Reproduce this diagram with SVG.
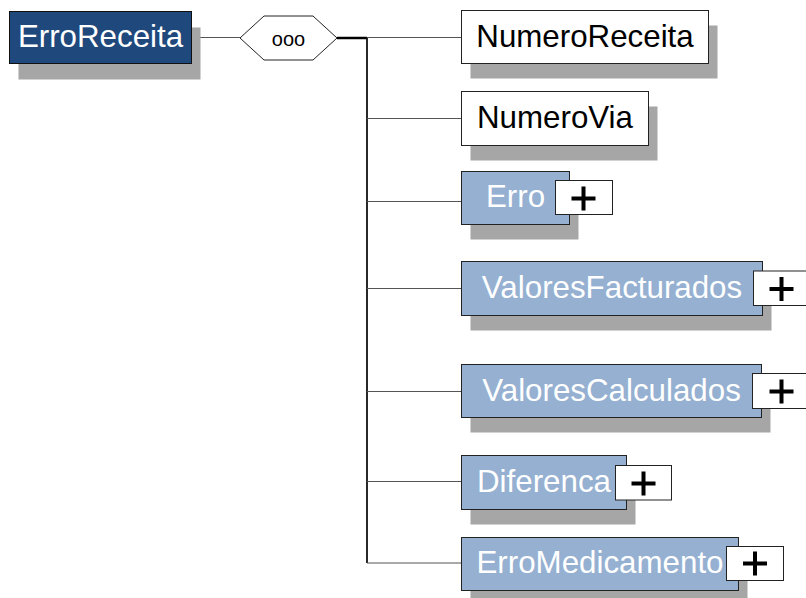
<svg xmlns="http://www.w3.org/2000/svg" width="806" height="598" viewBox="0 0 806 598">
<style>
.sh{fill:#a6a6a6}
.dk{fill:#1f487c;stroke:#111;stroke-width:1}
.lt{fill:#95b0d1;stroke:#222;stroke-width:1}
.wh{fill:#fff;stroke:#222;stroke-width:1}
.t{font-family:"Liberation Sans",Arial,sans-serif;font-size:31.3px;text-anchor:middle}
.tw{fill:#fff}
.tb{fill:#000}
.pl{stroke:#000;stroke-width:4;fill:none}
.ln{stroke:#555;stroke-width:1;fill:none}
</style>
<g id="connectors">
<line class="ln" x1="192" y1="37.5" x2="240" y2="37.5"/>
<line x1="337" y1="38" x2="367" y2="38" stroke="#000" stroke-width="2.5"/>
<line x1="367" y1="37" x2="367" y2="563" stroke="#111" stroke-width="1.8"/>
<line class="ln" x1="367" y1="37.5" x2="461.5" y2="37.5"/>
<line class="ln" x1="367" y1="118.5" x2="461.5" y2="118.5"/>
<line class="ln" x1="367" y1="201.5" x2="461.5" y2="201.5"/>
<line class="ln" x1="367" y1="288.5" x2="461.5" y2="288.5"/>
<line class="ln" x1="367" y1="391.5" x2="461.5" y2="391.5"/>
<line class="ln" x1="367" y1="481.5" x2="461.5" y2="481.5"/>
<line class="ln" x1="367" y1="563" x2="461.5" y2="563"/>
</g>
<g id="ErroReceita">
<rect class="sh" x="18.5" y="27.5" width="182" height="52"/>
<rect class="dk" x="9.5" y="11.5" width="182" height="52"/>
<text class="t tw" x="100.5" y="47.3">ErroReceita</text>
</g>
<g id="sequence">
<polygon points="240,38 264,16 313,16 337,38 313,60 264,60" fill="#fff" stroke="#222" stroke-width="1"/>
<text x="288.5" y="45.5" font-family="Liberation Sans,Arial,sans-serif" font-size="20" text-anchor="middle" fill="#000">ooo</text>
</g>
<g id="NumeroReceita">
<rect class="sh" x="470.5" y="25.5" width="247" height="53"/>
<rect class="wh" x="461.5" y="10.5" width="247" height="53"/>
<text class="t tb" x="585" y="46.7">NumeroReceita</text>
</g>
<g id="NumeroVia">
<rect class="sh" x="470.5" y="106.5" width="187" height="54"/>
<rect class="wh" x="461.5" y="91.5" width="187" height="54"/>
<text class="t tb" x="555" y="128">NumeroVia</text>
</g>
<g id="Erro">
<rect class="sh" x="470.5" y="186.5" width="108" height="53"/>
<rect class="lt" x="461.5" y="171.5" width="108" height="53"/>
<text class="t tw" x="515.5" y="207">Erro</text>
<rect class="wh" x="555.5" y="180.5" width="57" height="34"/>
<path class="pl" d="M571.5 198.5h24M583.5 186.5v24"/>
</g>
<g id="ValoresFacturados">
<rect class="sh" x="470.5" y="276.5" width="301" height="54"/>
<rect class="lt" x="461.5" y="261.5" width="301" height="54"/>
<text class="t tw" x="612" y="298">ValoresFacturados</text>
<rect class="wh" x="753.5" y="271" width="57" height="34.5"/>
<path class="pl" d="M769.5 289h24M781.5 277v24"/>
</g>
<g id="ValoresCalculados">
<rect class="sh" x="470.5" y="379.5" width="300" height="53"/>
<rect class="lt" x="461.5" y="364.5" width="300" height="53"/>
<text class="t tw" x="611.5" y="400.5">ValoresCalculados</text>
<rect class="wh" x="752.5" y="373.5" width="57" height="35"/>
<path class="pl" d="M769.5 391.5h24M781.5 379.5v24"/>
</g>
<g id="Diferenca">
<rect class="sh" x="470.5" y="470.5" width="165" height="54"/>
<rect class="lt" x="461.5" y="455.5" width="165" height="54"/>
<text class="t tw" x="544" y="492">Diferenca</text>
<rect class="wh" x="615.5" y="465.5" width="56" height="34.5"/>
<path class="pl" d="M631.5 483.5h24M643.5 471.5v24"/>
</g>
<g id="ErroMedicamento">
<rect class="sh" x="470.5" y="552.5" width="277" height="53"/>
<rect class="lt" x="461.5" y="537.5" width="277" height="53"/>
<text class="t tw" x="600" y="573">ErroMedicamento</text>
<rect class="wh" x="726.5" y="546.5" width="57" height="34"/>
<path class="pl" d="M743 563.5h24M755 551.5v24"/>
</g>
</svg>
